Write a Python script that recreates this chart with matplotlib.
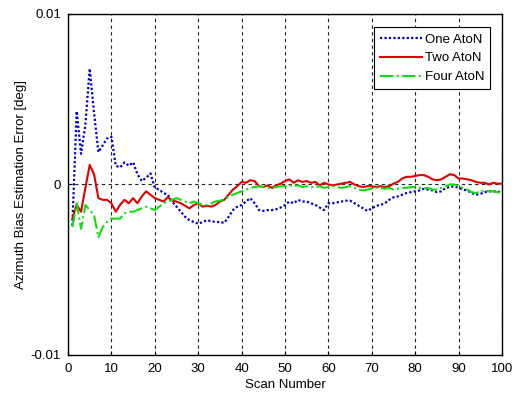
import matplotlib
matplotlib.use("Agg")
import matplotlib.pyplot as plt
import numpy as np

plt.rcParams['font.family'] = ['Liberation Sans', 'DejaVu Sans']

scan = list(range(1, 101))

one_aton = [-2.4, 4.3, 1.8, 3.5, 6.8, 4.2, 1.9, 2.3, 2.7, 2.8,
            1.1, 1.0, 1.3, 1.1, 1.3, 0.6, 0.2, 0.4, 0.65, -0.2,
            -0.3, -0.5, -0.6, -1.0, -1.3, -1.6, -1.9, -2.1, -2.2, -2.3,
            -2.2, -2.1, -2.15, -2.2, -2.2, -2.25, -1.9, -1.5, -1.3, -1.2,
            -1.0, -0.8, -1.1, -1.5, -1.55, -1.5, -1.5, -1.45, -1.35, -1.2,
            -1.0, -1.1, -0.9, -1.0, -1.0, -1.1, -1.2, -1.35, -1.5, -1.1,
            -1.1, -1.05, -1.0, -0.95, -0.95, -1.1, -1.25, -1.4, -1.55, -1.4,
            -1.25, -1.2, -1.1, -0.9, -0.75, -0.7, -0.6, -0.5, -0.45, -0.4,
            -0.35, -0.25, -0.3, -0.35, -0.45, -0.4, -0.2, -0.15, -0.1, -0.2,
            -0.3, -0.35, -0.5, -0.6, -0.55, -0.45, -0.4, -0.4, -0.4, -0.5]

two_aton = [-2.0, -1.2, -1.6, -0.2, 1.15, 0.6, -0.8, -0.9, -0.9, -1.1,
            -1.6, -1.2, -0.9, -1.1, -0.8, -1.1, -0.7, -0.4, -0.6, -0.8,
            -0.9, -1.0, -0.75, -0.95, -1.0, -1.1, -1.25, -1.4, -1.2, -1.1,
            -1.3, -1.25, -1.3, -1.2, -1.0, -0.9, -0.6, -0.3, -0.1, 0.15,
            0.1, 0.25, 0.2, -0.1, -0.15, -0.05, -0.2, -0.05, 0.05, 0.2,
            0.3, 0.1, 0.25, 0.15, 0.2, 0.1, 0.15, -0.05, 0.1, 0.0,
            -0.05, 0.0, 0.05, 0.1, 0.15, 0.0, -0.1, -0.15, -0.1, -0.1,
            -0.15, -0.1, -0.15, -0.1, 0.05, 0.15, 0.35, 0.45, 0.45, 0.5,
            0.55, 0.55, 0.45, 0.3, 0.25, 0.3, 0.45, 0.6, 0.55, 0.35,
            0.35, 0.3, 0.25, 0.15, 0.1, 0.1, 0.0, 0.1, 0.05, 0.05]

four_aton = [-2.5, -1.1, -2.6, -1.2, -1.5, -1.8, -3.1, -2.5, -2.2, -2.0,
             -2.0, -2.0, -1.7, -1.6, -1.6, -1.5, -1.4, -1.3, -1.4, -1.5,
             -1.3, -1.1, -1.0, -0.9, -0.8, -0.9, -1.0, -1.1, -1.0, -1.1,
             -1.2, -1.2, -1.1, -1.0, -0.95, -0.9, -0.7, -0.6, -0.5, -0.4,
             -0.3, -0.2, -0.15, -0.1, -0.15, -0.2, -0.2, -0.15, -0.1, -0.1,
             -0.05, -0.1, -0.05, -0.15, -0.1, -0.15, -0.15, -0.1, -0.2, -0.15,
             -0.1, -0.15, -0.2, -0.15, -0.1, -0.2, -0.3, -0.35, -0.3, -0.25,
             -0.2, -0.2, -0.25, -0.2, -0.3, -0.25, -0.2, -0.2, -0.15, -0.15,
             -0.2, -0.25, -0.2, -0.3, -0.3, -0.2, -0.1, 0.0, 0.0, -0.1,
             -0.2, -0.3, -0.45, -0.5, -0.4, -0.35, -0.4, -0.4, -0.45, -0.5]

x_ticks = [0, 10, 20, 30, 40, 50, 60, 70, 80, 90, 100]
y_ticks = [-0.01, 0, 0.01]
y_tick_labels = ['-0.01', '0', '0.01']

scale = 1e-3

fig = plt.figure(figsize=(5.2, 3.94), dpi=100)
ax = fig.add_axes([0.1308, 0.099, 0.8346, 0.8655])

ax.plot(scan, np.array(one_aton) * scale, color='#0000cc', linestyle=(0, (1, 1)), linewidth=1.6, label='One AtoN')
ax.plot(scan, np.array(two_aton) * scale, color='#e00000', linestyle='-', linewidth=1.5, label='Two AtoN')
ax.plot(scan, np.array(four_aton) * scale, color='#11dd11', linestyle='-.', linewidth=1.5, label='Four AtoN')

ax.set_xlim(0, 100)
ax.set_ylim(-0.01, 0.01)
ax.set_xticks(x_ticks)
ax.set_yticks(y_ticks)
ax.set_yticklabels(y_tick_labels)
ax.grid(True, color='#222222', linestyle=(0, (3, 3)), linewidth=0.8)
ax.tick_params(axis='both', direction='in', labelsize=9.5, length=3, width=0.8)
ax.tick_params(axis='x', pad=6)
ax.tick_params(axis='y', pad=5)
for s in ax.spines.values():
    s.set_linewidth(1.0)
ax.set_xlabel('Scan Number', fontsize=9.5, labelpad=3)
ax.set_ylabel('Azimuth Bias Estimation Error [deg]', fontsize=9.5, labelpad=3)

leg = ax.legend(loc='upper right', fontsize=9.5, frameon=True, fancybox=False,
                edgecolor='black', framealpha=1, handlelength=3.2,
                handletextpad=0.2, borderpad=0.45, labelspacing=0.5,
                bbox_to_anchor=(0.988, 0.98))
leg.get_frame().set_linewidth(0.8)

fig.savefig('out.png', dpi=100)
